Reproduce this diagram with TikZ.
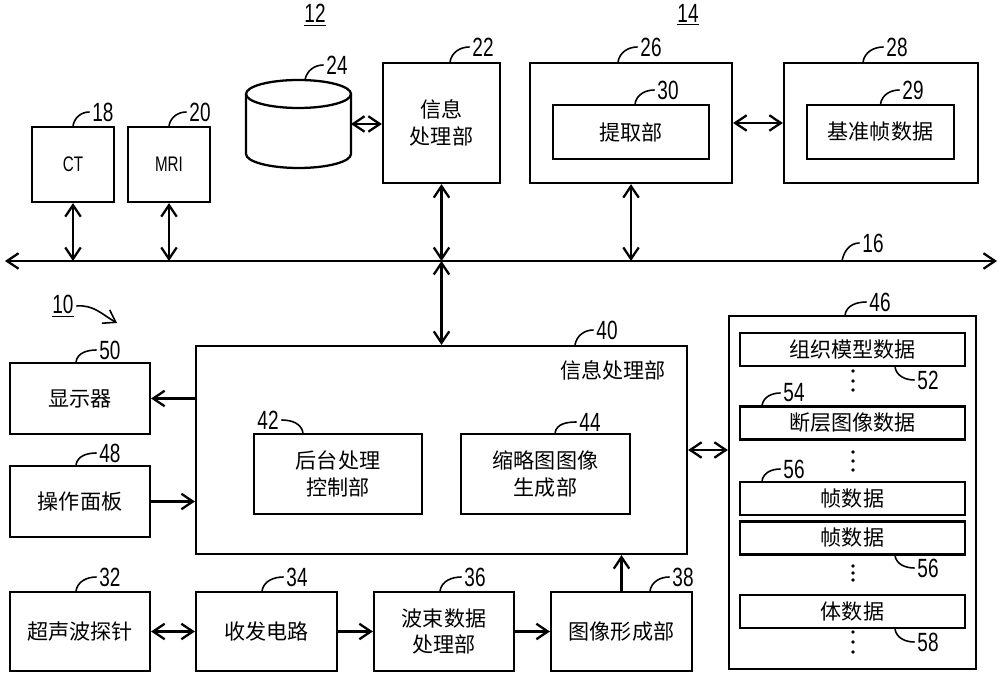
\documentclass[tikz,border=0pt]{standalone}
\usepackage{fontspec}
\setmainfont{Noto Sans CJK SC}
\newfontfamily\numfont[FakeStretch=0.72]{Liberation Sans}
\usetikzlibrary{arrows.meta}
\usetikzlibrary{calc}
\tikzset{>={Straight Barb[length=2.3mm,width=3.1mm]}}
\tikzset{box/.style = {draw, align=center, inner sep = 0,
                       font=\fontsize{12}{15}\selectfont}}
\tikzset{num/.style = {inner sep = 1pt, font=\numfont\fontsize{15}{15}\selectfont}}
\tikzset{lead/.style = {line width=0.9pt}}
\tikzset{data/.style = {box, minimum width=4.5cm, minimum height=0.66cm}}

\begin{document}
\begin{tikzpicture}[x = 0.02cm, y = 0.02cm, line width = 1.3pt]
    \useasboundingbox (0, 0) rectangle (1000, 676);

    % upper row: modalities, storage and servers
    \node [box, minimum width=1.64cm, minimum height=1.5cm,
           font=\numfont\fontsize{12}{14}\selectfont] (b18) at (73, 511.5) {CT};
    \node [box, minimum width=1.64cm, minimum height=1.5cm,
           font=\numfont\fontsize{12}{14}\selectfont] (b20) at (169, 511.5) {MRI};
    \node [inner sep=0, outer sep=0, minimum width=2.1cm, minimum height=1.76cm] (db24) at (298.5, 552) {};
    \draw (298.5, 582) ellipse [x radius=52.5, y radius=14];
    \draw (246, 582) -- (246, 522) arc [start angle=180, end angle=360,
                                        x radius=52.5, y radius=14] -- (351, 582);
    \node [box, minimum width=2.34cm, minimum height=2.4cm] (b22) at (441.5, 553) {信息\\处理部};
    \node [box, minimum width=4.04cm, minimum height=2.4cm] (b26) at (631, 553) {};
    \node [box, minimum width=3.12cm, minimum height=1.08cm] (b30) at (631, 544) {提取部};
    \node [box, minimum width=3.88cm, minimum height=2.4cm] (b28) at (881, 553) {};
    \node [box, minimum width=2.94cm, minimum height=1.08cm] (b29) at (880.5, 544) {基准帧数据};

    % network
    \coordinate (busL) at (5, 415);
    \coordinate (busR) at (997, 415);
    \coordinate (bus16) at (842, 415);
    \draw [<->] (busL) -- (busR);

    % ultrasound device
    \node [box, minimum width=9.82cm, minimum height=4.16cm] (b40) at (441.5, 226) {};
    \node [font=\fontsize{12}{15}\selectfont, inner sep=0] (t40) at (613, 306) {信息处理部};
    \node [box, minimum width=3.36cm, minimum height=1.6cm] (b42) at (338, 202) {后台处理\\控制部};
    \node [box, minimum width=3.38cm, minimum height=1.6cm] (b44) at (545.5, 202) {缩略图图像\\生成部};
    \node [box, minimum width=2.8cm, minimum height=1.42cm] (b50) at (80, 277.5) {显示器};
    \node [box, minimum width=2.8cm, minimum height=1.42cm] (b48) at (80, 174.5) {操作面板};
    \node [box, minimum width=2.8cm, minimum height=1.58cm] (b32) at (80, 44.5) {超声波探针};
    \node [box, minimum width=2.82cm, minimum height=1.58cm] (b34) at (266.5, 44.5) {收发电路};
    \node [box, minimum width=2.8cm, minimum height=1.58cm] (b36) at (444, 44.5) {波束数据\\处理部};
    \node [box, minimum width=2.82cm, minimum height=1.58cm] (b38) at (621.5, 44.5) {图像形成部};

    % storage
    \node [box, minimum width=4.94cm, minimum height=7.06cm] (b46) at (852.5, 183.5) {};
    \node [data] (d52) at (852.5, 326.5) {组织模型数据};
    \node [data] (d54) at (852.5, 253) {断层图像数据};
    \node [data] (d56a) at (852.5, 177.5) {帧数据};
    \node [data] (d56b) at (852.5, 138) {帧数据};
    \node [data] (d58) at (852.5, 64.5) {体数据};
    \foreach \y in {305, 295, 286, 224, 215, 206, 110, 103, 96, 44, 34, 24}
      \fill (853, \y) circle (1.8);

    % connections
    \draw [<->] (b18.south) -- (b18.south |- busL);
    \draw [<->] (b20.south) -- (b20.south |- busL);
    \draw [<->] (b22.south) -- (b22.south |- busL);
    \draw [<->] (b40.north |- busL) -- (b40.north);
    \draw [<->] (b26.south) -- (b26.south |- busL);
    \draw [<->] (db24.east) -- (db24.east -| b22.west);
    \draw [<->] (b26.east) -- (b28.west);
    \draw [->] (b40.west |- b50) -- (b50.east);
    \draw [->] (b48.east) -- (b48 -| b40.west);
    \draw [<->] (b32) -- (b34);
    \draw [->] (b34) -- (b36);
    \draw [->] (b36) -- (b38);
    \draw [->] (b38.north) -- (b38.north |- b40.south);
    \draw [<->] (b40.east) -- (b40.east -| b46.west);

    % reference numerals
    \node [num] (l12) at (315, 661) {\underline{12}};
    \node [num] (l14) at (688, 661) {\underline{14}};
    \node [num] (l10) at (63, 370) {\underline{10}};
    \coordinate (tip10) at (117, 353);
    \draw [->, lead] (l10.east) to [out=5, in=150] (tip10);

    \node [num] (l18) at (103, 564) {18};
    \node [num] (l20) at (200, 564) {20};
    \node [num] (l24) at (337, 611) {24};
    \node [num] (l22) at (483, 629) {22};
    \node [num] (l26) at (651, 629) {26};
    \node [num] (l28) at (897, 629) {28};
    \node [num] (l30) at (668, 586) {30};
    \node [num] (l29) at (913, 586) {29};
    \node [num] (l16) at (873, 433) {16};
    \node [num] (l50) at (110, 326) {50};
    \node [num] (l48) at (110, 223) {48};
    \node [num] (l42) at (268, 256) {42};
    \node [num] (l44) at (590, 254) {44};
    \node [num] (l40) at (607, 346) {40};
    \node [num] (l32) at (110, 99) {32};
    \node [num] (l34) at (297, 99) {34};
    \node [num] (l36) at (475, 99) {36};
    \node [num] (l38) at (683, 99) {38};
    \node [num] (l46) at (880, 374) {46};
    \node [num] (l52) at (928, 296) {52};
    \node [num] (l54) at (794, 283) {54};
    \node [num] (l56a) at (794, 207) {56};
    \node [num] (l56b) at (928, 108) {56};
    \node [num] (l58) at (928, 34) {58};

    \draw [lead] (b18.north) to [out=80, in=180] (l18.west);
    \draw [lead] (b20.north) to [out=80, in=180] (l20.west);
    \draw [lead] ($(db24.north)+(6.5, 0)$) to [out=80, in=180] (l24.west);
    \draw [lead] ($(b22.north)+(8.5, 0)$) to [out=80, in=180] (l22.west);
    \draw [lead] ($(b26.north)+(-13, 0)$) to [out=80, in=180] (l26.west);
    \draw [lead] ($(b28.north)+(-18, 0)$) to [out=80, in=180] (l28.west);
    \draw [lead] ($(b30.north)+(4, 0)$) to [out=80, in=180] (l30.west);
    \draw [lead] ($(b29.north)+(0, 0)$) to [out=80, in=180] (l29.west);
    \draw [lead] (bus16) to [out=80, in=180] (l16.west);
    \draw [lead] ($(b50.north)+(-4, 0)$) to [out=80, in=180] (l50.west);
    \draw [lead] ($(b48.north)+(-4, 0)$) to [out=80, in=180] (l48.west);
    \draw [lead] (l42.east) to [out=0, in=100] ($(b42.north)+(-35, 0)$);
    \draw [lead] ($(b44.north)+(9.5, 0)$) to [out=80, in=180] (l44.west);
    \draw [lead] ($(b40.north)+(133.5, 0)$) to [out=80, in=180] (l40.west);
    \draw [lead] ($(b32.north)+(-4, 0)$) to [out=80, in=180] (l32.west);
    \draw [lead] ($(b34.north)+(-4.5, 0)$) to [out=80, in=180] (l34.west);
    \draw [lead] ($(b36.north)+(-4, 0)$) to [out=80, in=180] (l36.west);
    \draw [lead] ($(b38.north)+(28.5, 0)$) to [out=80, in=180] (l38.west);
    \draw [lead] ($(b46.north)+(-7.5, 0)$) to [out=80, in=180] (l46.west);
    \draw [lead] ($(d52.south)+(42.5, 0)$) to [out=-80, in=180] (l52.west);
    \draw [lead] ($(d54.north)+(-90.5, 0)$) to [out=80, in=180] (l54.west);
    \draw [lead] ($(d56a.north)+(-90.5, 0)$) to [out=80, in=180] (l56a.west);
    \draw [lead] ($(d56b.south)+(42.5, 0)$) to [out=-80, in=180] (l56b.west);
    \draw [lead] ($(d58.south)+(42.5, 0)$) to [out=-80, in=180] (l58.west);
\end{tikzpicture}
\end{document}
